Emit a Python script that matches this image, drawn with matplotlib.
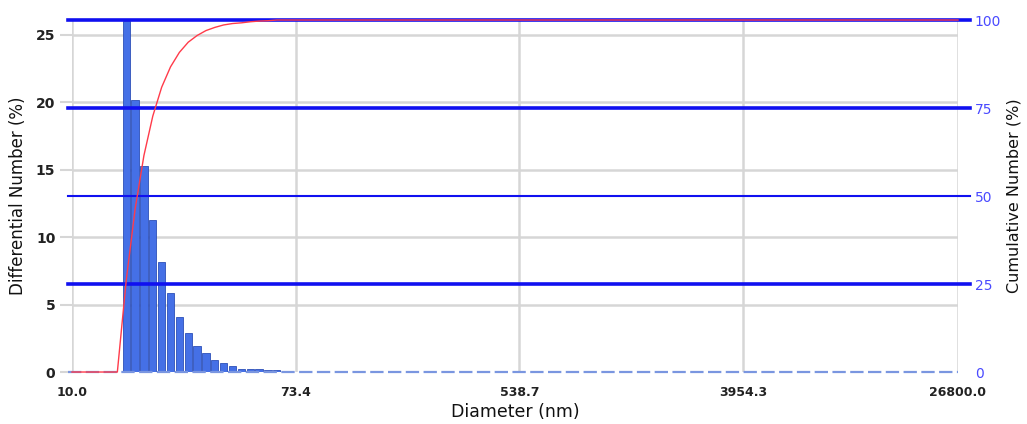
import matplotlib
matplotlib.use("Agg")
import matplotlib.pyplot as plt
import numpy as np

# ---- data ----
diameters = [16.21, 17.54, 18.98, 20.54, 22.23, 24.06, 26.03, 28.17, 30.49,
             32.99, 35.70, 38.63, 41.81, 45.24, 48.95, 52.97, 57.33, 62.03]
diff_number = [26.0, 20.2, 15.26, 11.25, 8.16, 5.86, 4.08, 2.89, 1.96,
               1.41, 0.92, 0.65, 0.42, 0.22, 0.22, 0.22, 0.15, 0.15]
cum_x = [10.0, 14.98] + diameters + [26800.0]
cum_y = [0.0, 0.0, 26.0, 46.2, 61.5, 72.7, 80.9, 86.7, 90.8, 93.7, 95.6,
         97.0, 97.9, 98.6, 99.0, 99.2, 99.5, 99.7, 99.8, 100.0, 100.0]
xticks = [10.0, 73.4, 538.7, 3954.3, 26800.0]
xtick_labels = ["10.0", "73.4", "538.7", "3954.3", "26800.0"]
left_ticks = [0, 5, 10, 15, 20, 25]
right_ticks = [0, 25, 50, 75, 100]

plt.rcParams['font.family'] = ['DejaVu Sans']

fig = plt.figure(figsize=(10.27, 4.24), dpi=100)
ax = fig.add_axes([0.0701, 0.1226, 0.8627, 0.8302])
ax.set_xscale('log')
ax.set_xlim(10.0, 26800.0)
ax.set_ylim(0, 26.11)

for s in ax.spines.values():
    s.set_visible(False)

grid_c = '#d6d6d6'
for xt in xticks:
    ax.axvline(xt, color=grid_c, lw=1.8, zorder=0)
for yt in left_ticks[1:]:
    ax.axhline(yt, color=grid_c, lw=1.8, zorder=0)

# bars
w = 0.0343 * 0.82
c = np.array(diameters)
lefts = c * 10 ** (-w / 2)
widths = c * (10 ** (w / 2) - 10 ** (-w / 2))
ax.bar(lefts, diff_number, width=widths, align='edge', color='#4570e6',
       edgecolor='#2d4fb8', linewidth=0.6, zorder=3)

# baseline dashed
ax.axhline(0, xmin=-0.005, xmax=1.0, color='#7a96e0', lw=1.6, dashes=(6, 2),
           zorder=4, clip_on=False)

ax.set_xticks(xticks)
ax.set_xticklabels(xtick_labels, fontsize=9, fontweight='bold', color='#222222')
ax.minorticks_off()
ax.tick_params(axis='x', length=0, pad=10)
ax.set_yticks(left_ticks)
ax.set_yticklabels([str(t) for t in left_ticks], fontsize=10, fontweight='bold',
                   color='#222222')
ax.tick_params(axis='y', length=9, width=1.5, color=grid_c, pad=3)
ax.set_xlabel('Diameter (nm)', fontsize=12.5, color='#111111', labelpad=3)
ax.set_ylabel('Differential Number (%)', fontsize=12, color='#111111', labelpad=6)

ax2 = ax.twinx()
ax2.set_ylim(0, 100)
for s in ax2.spines.values():
    s.set_visible(False)
ax2.set_yticks(right_ticks)
ax2.set_yticklabels([str(t) for t in right_ticks], fontsize=10, color='#4a4aff')
ax2.tick_params(axis='y', length=0, pad=12)
for yt in right_ticks[1:]:
    lw = 1.5 if yt == 50 else 2.6
    ax2.axhline(yt, xmin=-0.005, xmax=1.013, color='#1010f0', lw=lw,
                zorder=2, clip_on=False)
ax2.plot(cum_x, cum_y, color='#ff3b4a', lw=1.0, zorder=5, clip_on=False)
ax2.set_ylabel('Cumulative Number (%)', fontsize=11.5, color='#111111', labelpad=4)

fig.savefig('out.png', dpi=100)
